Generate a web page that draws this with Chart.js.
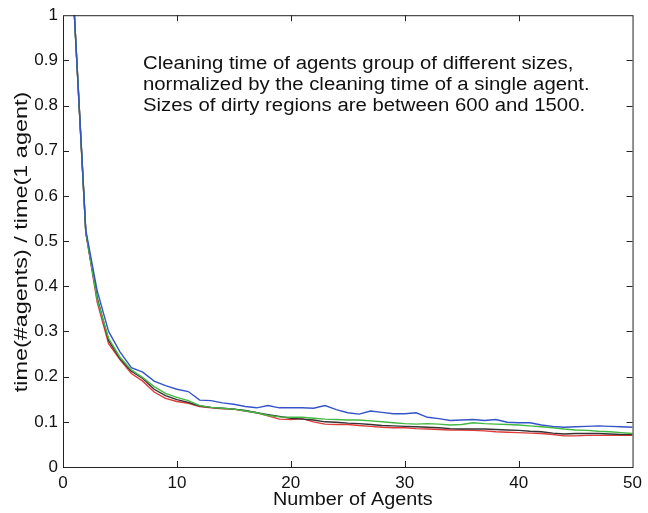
<!DOCTYPE html>
<html>
<head>
<meta charset="utf-8">
<script src="https://cdn.jsdelivr.net/npm/chart.js@4"></script>
<style>
  html, body { margin: 0; padding: 0; background: #fff; }
  #wrap { width: 648px; height: 513px; }
</style>
</head>
<body>
<div id="wrap"><canvas id="chart"></canvas></div>
<script>
// number of agents 1..50
const agents = [1,2,3,4,5,6,7,8,9,10,11,12,13,14,15,16,17,18,19,20,
  21,22,23,24,25,26,27,28,29,30,31,32,33,34,35,36,37,38,39,40,
  41,42,43,44,45,46,47,48,49,50];

const blueSeries = [1.0,0.525,0.39,0.30,0.255,0.22,0.21,0.19,0.18,0.172,
  0.167,0.148,0.147,0.142,0.139,0.134,0.131,0.136,0.131,0.131,
  0.131,0.13,0.136,0.127,0.12,0.117,0.124,0.121,0.118,0.118,
  0.12,0.11,0.107,0.103,0.104,0.105,0.103,0.105,0.099,0.098,
  0.098,0.093,0.09,0.088,0.089,0.09,0.091,0.09,0.089,0.088];

const blackSeries = [1.0,0.52,0.375,0.28,0.24,0.212,0.196,0.172,0.158,0.149,
  0.143,0.135,0.132,0.13,0.128,0.125,0.12,0.116,0.112,0.108,
  0.106,0.104,0.1,0.099,0.097,0.096,0.094,0.092,0.091,0.09,
  0.089,0.088,0.087,0.085,0.084,0.084,0.084,0.083,0.082,0.081,
  0.079,0.078,0.075,0.073,0.074,0.074,0.074,0.073,0.072,0.072];

const greenSeries = [1.0,0.52,0.37,0.285,0.243,0.215,0.198,0.178,0.163,0.154,
  0.147,0.136,0.132,0.13,0.128,0.124,0.12,0.114,0.111,0.11,
  0.11,0.108,0.106,0.105,0.104,0.104,0.102,0.1,0.098,0.096,
  0.095,0.096,0.095,0.093,0.094,0.098,0.096,0.095,0.094,0.093,
  0.091,0.089,0.087,0.084,0.082,0.081,0.079,0.078,0.076,0.074];

const redSeries = [1.0,0.52,0.365,0.273,0.238,0.207,0.19,0.166,0.152,0.145,
  0.141,0.134,0.131,0.129,0.128,0.124,0.12,0.113,0.106,0.105,
  0.107,0.1,0.095,0.094,0.094,0.092,0.09,0.088,0.087,0.087,
  0.085,0.084,0.083,0.082,0.082,0.081,0.08,0.078,0.077,0.076,
  0.075,0.074,0.072,0.069,0.069,0.07,0.07,0.07,0.07,0.07];

const xTitle = 'Number of Agents';
const yTitle = 'time(#agents) / time(1 agent)';
const noteLines = [
  'Cleaning time of agents group of different sizes,',
  'normalized by the cleaning time of a single agent.',
  'Sizes of dirty regions are between 600 and 1500.'
];

const FONT = '"Liberation Sans", Arial, Helvetica, sans-serif';

const toPoints = ys => ys.map((y, i) => ({ x: agents[i], y }));

const mkLine = (data, color) => ({
  data: toPoints(data),
  borderColor: color,
  borderWidth: 1.4,
  pointRadius: 0,
  fill: false,
  tension: 0
});

// text in the old figure is wider than Liberation Sans, so stretch it a bit
const wideText = (ctx, text, x, y, sx, align) => {
  ctx.save();
  ctx.translate(x, y);
  ctx.scale(sx, 1);
  ctx.textAlign = align;
  ctx.fillText(text, 0, 0);
  ctx.restore();
};

// box, inward ticks, axis titles and the note, matlab style
const boxPlugin = {
  id: 'box',
  afterDraw(chart) {
    const { ctx, chartArea: a, scales } = chart;
    ctx.save();
    ctx.strokeStyle = '#222';
    ctx.lineWidth = 1;
    ctx.strokeRect(a.left + 0.5, a.top + 0.5, a.right - a.left, a.bottom - a.top);
    ctx.beginPath();
    scales.x.ticks.forEach(t => {
      if (t.value <= 0 || t.value >= 50) return;
      const px = Math.round(scales.x.getPixelForValue(t.value)) + 0.5;
      ctx.moveTo(px, a.bottom); ctx.lineTo(px, a.bottom - 6);
      ctx.moveTo(px, a.top); ctx.lineTo(px, a.top + 6);
    });
    scales.y.ticks.forEach(t => {
      if (t.value <= 0 || t.value >= 1) return;
      const py = Math.round(scales.y.getPixelForValue(t.value)) + 0.5;
      ctx.moveTo(a.left, py); ctx.lineTo(a.left + 6, py);
      ctx.moveTo(a.right, py); ctx.lineTo(a.right - 6, py);
    });
    ctx.stroke();

    ctx.fillStyle = '#111';
    ctx.textBaseline = 'middle';

    ctx.font = '18px ' + FONT;
    noteLines.forEach((line, i) => wideText(ctx, line, 143, 64 + i * 21, 1.13, 'left'));

    wideText(ctx, xTitle, (a.left + a.right) / 2 + 5, 500, 1.1, 'center');

    ctx.save();
    ctx.translate(22, 242);
    ctx.rotate(-Math.PI / 2);
    wideText(ctx, yTitle, 0, 0, 1.3, 'center');
    ctx.restore();

    ctx.restore();
  }
};

new Chart(document.getElementById('chart'), {
  type: 'line',
  data: {
    datasets: [
      mkLine(blueSeries, '#3554c8'),
      mkLine(greenSeries, '#44b844'),
      mkLine(blackSeries, '#333333'),
      mkLine(redSeries, '#e03a3a')
    ]
  },
  options: {
    responsive: true,
    maintainAspectRatio: false,
    animation: false,
    layout: { padding: { top: 13, right: 11, left: 0, bottom: 0 } },
    plugins: { legend: { display: false }, tooltip: { enabled: false } },
    scales: {
      x: {
        type: 'linear',
        min: 0,
        max: 50,
        ticks: {
          stepSize: 10,
          color: '#111',
          padding: 6,
          maxRotation: 0,
          font: { family: FONT, size: 17 }
        },
        grid: { display: false, drawTicks: false },
        border: { display: false },
        afterFit: s => { s.height = 46; }
      },
      y: {
        min: 0,
        max: 1,
        ticks: {
          stepSize: 0.1,
          color: '#111',
          padding: 5,
          font: { family: FONT, size: 17 },
          callback: v => String(Math.round(v * 10) / 10)
        },
        grid: { display: false, drawTicks: false },
        border: { display: false },
        afterFit: s => { s.width = 63; }
      }
    }
  },
  plugins: [boxPlugin]
});
</script>
</body>
</html>
